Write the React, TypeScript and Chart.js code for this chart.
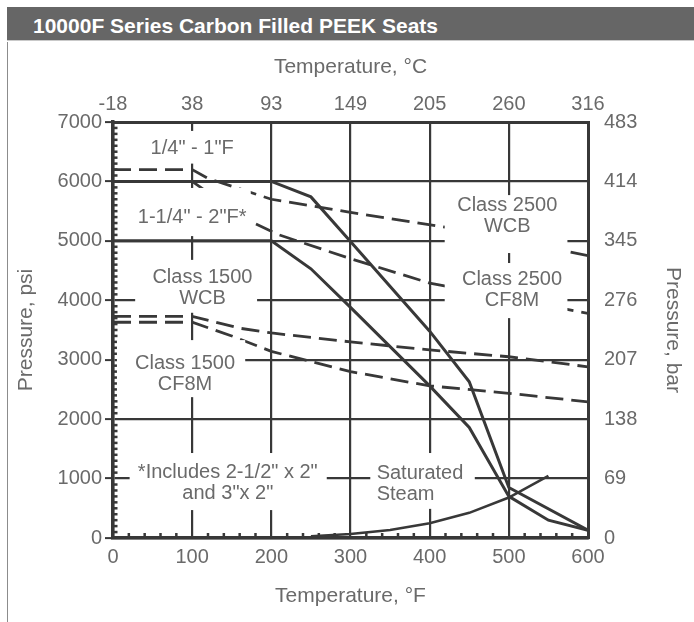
import React, { useEffect, useRef } from 'react';
import { Chart, registerables } from 'chart.js';

Chart.register(...registerables);

// ---- Data (temperature °F, pressure psi) ----
const smallSizeTemp = [0, 200, 250, 300, 400, 450, 500, 600];
const smallSizePsi = [6000, 6000, 5740, 4990, 3480, 2630, 850, 130];

const largeSizeTemp = [0, 200, 250, 300, 400, 450, 500, 550, 600];
const largeSizePsi = [5000, 5000, 4530, 3880, 2560, 1860, 700, 300, 130];

const wcb2500Temp = [0, 100, 120, 200, 300, 420, 600];
const wcb2500Psi = [6200, 6200, 6050, 5700, 5480, 5230, 4750];

const cf8m2500Temp = [0, 100, 170, 210, 300, 400, 600];
const cf8m2500Psi = [6000, 6000, 5350, 5100, 4700, 4290, 3780];

const wcb1500Temp = [0, 100, 160, 200, 300, 400, 500, 600];
const wcb1500Psi = [3730, 3730, 3530, 3450, 3300, 3165, 3050, 2880];

const cf8m1500Temp = [0, 100, 150, 200, 300, 400, 500, 600];
const cf8m1500Psi = [3630, 3630, 3400, 3140, 2800, 2560, 2435, 2290];

const steamTemp = [250, 300, 350, 400, 450, 500, 550];
const steamPsi = [29, 67, 135, 247, 423, 681, 1045];

// ---- Tick labels ----
const celsiusLabels = ['-18', '38', '93', '149', '205', '260', '316'];
const barLabels = ['0', '69', '138', '207', '276', '345', '414', '483'];

// ---- In-chart labels (anchor in data units, white box in data units) ----
const chartNotes = [
  { lines: ['1/4" - 1"F'], x: 100, y: 6560, box: [47, 152, 6300, 6850] },
  { lines: ['1-1/4" - 2"F*'], x: 100, y: 5400, box: [26, 174, 5080, 5890] },
  { lines: ['Class 1500', 'WCB'], x: 113, y: 4215, box: [28, 182, 3790, 4680] },
  { lines: ['Class 1500', 'CF8M'], x: 91, y: 2760, box: [5, 167, 2370, 3330] },
  { lines: ['*Includes 2-1/2" x 2"', 'and 3"x 2"'], x: 145, y: 925, box: [21, 270, 470, 1430] },
  { lines: ['Saturated', 'Steam'], x: 333, y: 909, align: 'left', box: [325, 457, 490, 1430] },
  { lines: ['Class 2500', 'WCB'], x: 498, y: 5418, box: [419, 574, 4795, 5770] },
  { lines: ['Class 2500', 'CF8M'], x: 504, y: 4168, box: [419, 574, 3700, 4627] },
];

const LINE = '#383838';
const TEXT = '#6a6a6a';
const FONT = '"Liberation Sans", Arial, Helvetica, sans-serif';

const toPoints = (xs: number[], ys: number[]) => xs.map((x, i) => ({ x, y: ys[i] }));

const notesPlugin = {
  id: 'notes',
  afterDatasetsDraw(chart: any) {
    const { ctx } = chart;
    const xs = chart.scales.x;
    const ys = chart.scales.y;
    ctx.save();
    // minor ticks along left and bottom axes
    ctx.fillStyle = LINE;
    const left = chart.chartArea.left;
    const bottom = chart.chartArea.bottom;
    for (let v = 100; v < 7000; v += 100) {
      if (v % 1000 === 0) continue;
      const py = ys.getPixelForValue(v);
      ctx.fillRect(left + 1, py - 1.25, 3.5, 2.5);
    }
    for (let t = 20; t < 600; t += 20) {
      if (t % 100 === 0) continue;
      const px = xs.getPixelForValue(t);
      ctx.fillRect(px - 1.25, bottom - 5, 2.5, 4);
    }
    // white label boxes + text
    ctx.font = `20px ${FONT}`;
    ctx.textBaseline = 'middle';
    ctx.fillStyle = TEXT;
    for (const n of chartNotes) {
      const x1 = xs.getPixelForValue(n.box[0]);
      const x2 = xs.getPixelForValue(n.box[1]);
      const y1 = ys.getPixelForValue(n.box[3]);
      const y2 = ys.getPixelForValue(n.box[2]);
      ctx.fillStyle = '#ffffff';
      ctx.fillRect(x1, y1, x2 - x1, y2 - y1);
      ctx.fillStyle = TEXT;
      ctx.textAlign = (n as any).align === 'left' ? 'left' : 'center';
      const cx = xs.getPixelForValue(n.x);
      const cy = ys.getPixelForValue(n.y);
      const lh = 21;
      const start = cy - ((n.lines.length - 1) * lh) / 2;
      n.lines.forEach((ln, i) => ctx.fillText(ln, cx, start + i * lh));
    }
    ctx.restore();
  },
};

export default function App() {
  const ref = useRef<HTMLCanvasElement | null>(null);

  useEffect(() => {
    if (!ref.current) return;
    Chart.defaults.font.family = FONT;
    Chart.defaults.font.size = 20;
    Chart.defaults.color = TEXT;

    const solid = (label: string, xs: number[], ys: number[]) => ({
      label,
      data: toPoints(xs, ys),
      borderColor: LINE,
      borderWidth: 3,
      pointRadius: 0,
      fill: false,
      tension: 0,
      xAxisID: 'x',
      yAxisID: 'y',
    });
    const dashed = (label: string, xs: number[], ys: number[]) => ({
      ...solid(label, xs, ys),
      borderDash: [18, 8],
      borderWidth: 2.8,
    });

    const titleFont = { size: 21, family: FONT };

    const chart = new Chart(ref.current, {
      type: 'line',
      data: {
        datasets: [
          dashed('Class 2500 WCB', wcb2500Temp, wcb2500Psi),
          dashed('Class 2500 CF8M', cf8m2500Temp, cf8m2500Psi),
          dashed('Class 1500 WCB', wcb1500Temp, wcb1500Psi),
          dashed('Class 1500 CF8M', cf8m1500Temp, cf8m1500Psi),
          solid('1/4" - 1"F', smallSizeTemp, smallSizePsi),
          solid('1-1/4" - 2"F*', largeSizeTemp, largeSizePsi),
          { ...solid('Saturated Steam', steamTemp, steamPsi), borderWidth: 2.6 },
        ] as any,
      },
      options: {
        animation: false,
        responsive: false,
        devicePixelRatio: 1,
        layout: { padding: { top: 45, left: 0, right: 0, bottom: 0 } },
        plugins: { legend: { display: false }, tooltip: { enabled: false } },
        elements: { point: { radius: 0 } },
        scales: {
          x: {
            type: 'linear',
            position: 'bottom',
            min: 0,
            max: 600,
            ticks: { stepSize: 100, padding: 7, callback: (v: any) => String(v), maxRotation: 0 },
            grid: { color: LINE, lineWidth: 2.2, drawTicks: false },
            border: { display: true, color: LINE, width: 3.5 },
            title: { display: true, text: 'Temperature, °F', font: titleFont, color: TEXT, padding: { top: 0, bottom: 13 } },
            afterFit: (s: any) => { s.height = 84; },
          },
          x2: {
            type: 'linear',
            position: 'top',
            display: true,
            min: 0,
            max: 600,
            ticks: { stepSize: 100, padding: 6, maxRotation: 0, callback: (_v: any, i: number) => celsiusLabels[i] },
            grid: { display: false, drawOnChartArea: false, drawTicks: false },
            border: { display: true, color: LINE, width: 3 },
            title: { display: true, text: 'Temperature, °C', font: titleFont, color: TEXT, padding: { top: 10, bottom: 0 } },
            afterFit: (s: any) => { s.height = 77; },
          },
          y: {
            type: 'linear',
            position: 'left',
            min: 0,
            max: 7000,
            ticks: { stepSize: 1000, padding: 3, callback: (v: any) => String(v) },
            grid: { color: LINE, lineWidth: 2.2, drawTicks: true, tickLength: 8, tickColor: LINE, tickWidth: 2 },
            border: { display: true, color: LINE, width: 3.5 },
            title: { display: true, text: 'Pressure, psi', font: titleFont, color: TEXT, padding: { top: 14, bottom: 0 } },
            afterFit: (s: any) => { s.width = 113; },
          },
          y2: {
            type: 'linear',
            position: 'right',
            display: true,
            min: 0,
            max: 7000,
            ticks: { stepSize: 1000, padding: 16, callback: (_v: any, i: number) => barLabels[i] },
            grid: { display: false, drawOnChartArea: false, drawTicks: false },
            border: { display: true, color: LINE, width: 3 },
            title: { display: true, text: 'Pressure, bar', font: titleFont, color: TEXT, padding: { top: 9, bottom: 0 } },
            afterFit: (s: any) => { s.width = 106; },
          },
        },
      } as any,
      plugins: [notesPlugin],
    });
    return () => chart.destroy();
  }, []);

  return (
    <div style={{ position: 'absolute', left: 0, top: 0, width: 694, height: 622, background: '#fff', overflow: 'hidden' }}>
      <canvas ref={ref} width={694} height={622} style={{ position: 'absolute', left: 0, top: 0, display: 'block' }} />
      <div
        style={{
          position: 'absolute',
          left: 7,
          top: 7,
          width: 687,
          height: 34,
          background: '#666666',
          borderBottom: '1px solid #c9c9c9',
          color: '#ffffff',
          fontFamily: FONT,
          fontWeight: 'bold',
          fontSize: 21,
          lineHeight: '37px',
          paddingLeft: 26,
          boxSizing: 'border-box',
          whiteSpace: 'nowrap',
        }}
      >
        10000F Series Carbon Filled PEEK Seats
      </div>
      <div style={{ position: 'absolute', left: 7, top: 42, width: 1, height: 580, background: '#8c8c8c' }} />
    </div>
  );
}
